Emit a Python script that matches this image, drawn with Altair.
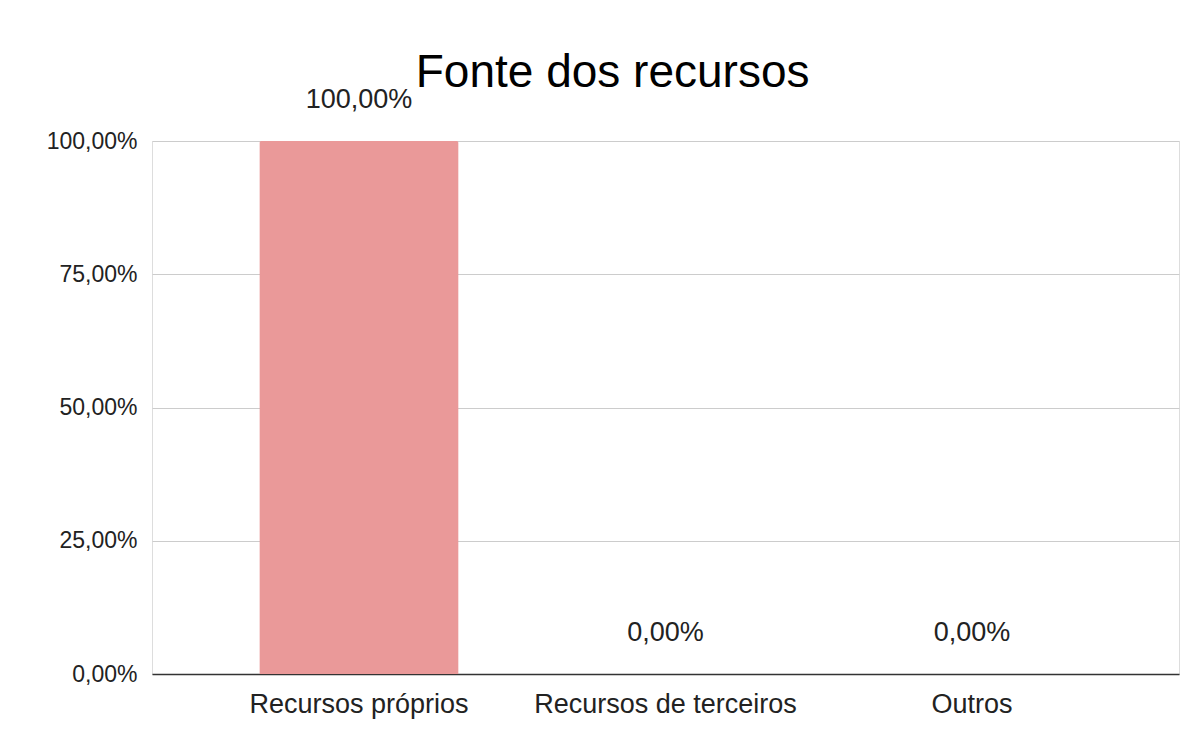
import altair as alt
import pandas as pd

categories = ["Recursos próprios", "Recursos de terceiros", "Outros"]
values = [1.0, 0.0, 0.0]
y_ticks = [0, 0.25, 0.5, 0.75, 1.0]

df = pd.DataFrame({"categoria": categories, "valor": values})

FONT = "Liberation Sans"

base = alt.Chart(df).encode(
    x=alt.X(
        "categoria:N",
        sort=categories,
        title=None,
        scale=alt.Scale(paddingInner=0.35, paddingOuter=0.35),
        axis=alt.Axis(
            labelAngle=0,
            labelFontSize=27,
            labelFont=FONT,
            labelColor="#222222",
            labelPadding=17,
            labelLimit=0,
            ticks=False,
            domainColor="#333333",
            domainWidth=1.5,
            grid=False,
        ),
    ),
    y=alt.Y(
        "valor:Q",
        title=None,
        scale=alt.Scale(domain=[0, 1], nice=False),
        axis=alt.Axis(
            values=y_ticks,
            labelExpr="replace(format(datum.value * 100, '.2f'), '.', ',') + '%'",
            labelFontSize=23,
            labelFont=FONT,
            labelColor="#222222",
            labelPadding=15,
            ticks=False,
            domain=False,
            gridColor="#cccccc",
            gridWidth=1,
        ),
    ),
)

bars = base.mark_bar(color="#ea9999", cornerRadiusTopLeft=2, cornerRadiusTopRight=2)

labels = base.transform_calculate(
    rotulo="replace(format(datum.valor * 100, '.2f'), '.', ',') + '%'"
).mark_text(
    baseline="alphabetic", dy=-33, fontSize=27, font=FONT, color="#222222"
).encode(text="rotulo:N")

chart = (
    (bars + labels)
    .properties(
        width=1027,
        height=533,
        title=alt.TitleParams(
            "Fonte dos recursos",
            fontSize=46,
            font=FONT,
            fontWeight="normal",
            color="#000000",
            anchor="middle",
            frame="bounds",
            offset=-11,
        ),
        padding={"left": 144, "top": 133, "right": 10, "bottom": 60},
        autosize=alt.AutoSizeParams(type="none"),
    )
    .configure_view(stroke="transparent", strokeWidth=0)
    .configure(background="white")
)

chart.save("out.html", embed_options={"renderer": "svg", "actions": False})
